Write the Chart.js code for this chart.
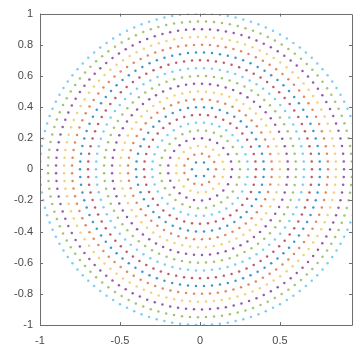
<!DOCTYPE html>
<html>
<head>
<meta charset="utf-8">
<script src="https://cdn.jsdelivr.net/npm/chart.js@4.4.1/dist/chart.umd.min.js"></script>
<style>
  html, body { margin: 0; padding: 0; background: #fff; }
  #wrap { width: 356px; height: 350px; }
</style>
</head>
<body>
<div id="wrap"><canvas id="chart" width="356" height="350"></canvas></div>
<script>
// Ring radii and number of points on each ring
var RING_RADII = [0.05, 0.10, 0.15, 0.20, 0.25, 0.30, 0.35, 0.40, 0.45, 0.50,
                  0.55, 0.60, 0.65, 0.70, 0.75, 0.80, 0.85, 0.90, 0.95, 1.00];
var RING_COUNTS = [6, 13, 19, 25, 31, 38, 44, 50, 57, 63,
                   69, 75, 82, 88, 94, 101, 107, 113, 119, 126];

// MATLAB default colour order, cycled ring by ring
var COLOR_ORDER = ['rgba(0,114,189,0.75)', 'rgba(217,83,25,0.7)', 'rgba(237,177,32,0.6)',
                   'rgba(126,47,142,0.8)', 'rgba(119,172,48,0.7)', 'rgba(77,190,238,0.75)',
                   'rgba(162,20,47,0.7)'];

// Tick labels
var X_TICKS = [-1, -0.5, 0, 0.5];
var Y_TICKS = [-1, -0.8, -0.6, -0.4, -0.2, 0, 0.2, 0.4, 0.6, 0.8, 1];

var AXIS_COLOR = '#6e6e6e';
var TICK_LEN = 3;

// one dataset per ring, points spread evenly round the circle
var datasets = RING_RADII.map(function (r, i) {
  var n = RING_COUNTS[i];
  var pts = [];
  for (var j = 0; j < n; j++) {
    var a = 2 * Math.PI * j / n;
    pts.push({ x: r * Math.cos(a), y: r * Math.sin(a) });
  }
  return {
    data: pts,
    backgroundColor: COLOR_ORDER[i % COLOR_ORDER.length],
    borderWidth: 0,
    pointRadius: 1.25
  };
});

// box round the axes with inward ticks, matlab style
var boxPlugin = {
  id: 'box',
  afterDraw: function (chart) {
    var ctx = chart.ctx;
    var a = chart.chartArea;
    var xs = chart.scales.x;
    var ys = chart.scales.y;
    ctx.save();
    ctx.strokeStyle = AXIS_COLOR;
    ctx.lineWidth = 1;
    ctx.beginPath();
    ctx.rect(Math.round(a.left) + 0.5, Math.round(a.top) + 0.5,
             Math.round(a.right - a.left), Math.round(a.bottom - a.top));
    X_TICKS.forEach(function (v) {
      var px = Math.round(xs.getPixelForValue(v)) + 0.5;
      ctx.moveTo(px, a.bottom); ctx.lineTo(px, a.bottom - TICK_LEN);
      ctx.moveTo(px, a.top); ctx.lineTo(px, a.top + TICK_LEN);
    });
    Y_TICKS.forEach(function (v) {
      var py = Math.round(ys.getPixelForValue(v)) + 0.5;
      ctx.moveTo(a.left, py); ctx.lineTo(a.left + TICK_LEN, py);
      ctx.moveTo(a.right, py); ctx.lineTo(a.right - TICK_LEN, py);
    });
    ctx.stroke();
    ctx.restore();
  }
};

var tickFont = { family: 'Liberation Sans, Arial, sans-serif', size: 11 };

new Chart(document.getElementById('chart'), {
  type: 'scatter',
  data: { datasets: datasets },
  options: {
    responsive: false,
    devicePixelRatio: 1,
    animation: false,
    layout: { padding: { left: 0, right: 4, top: 6, bottom: 0 } },
    plugins: { legend: { display: false }, tooltip: { enabled: false } },
    scales: {
      x: {
        type: 'linear',
        min: -1,
        max: 0.95,
        grid: { display: false, drawTicks: false },
        border: { display: false },
        afterBuildTicks: function (s) {
          s.ticks = X_TICKS.map(function (v) { return { value: v }; });
        },
        afterFit: function (s) { s.height = 25; },
        ticks: {
          autoSkip: false,
          maxRotation: 0,
          padding: 9,
          color: '#4a4a4a',
          font: tickFont,
          callback: function (v) { return String(v); }
        }
      },
      y: {
        type: 'linear',
        min: -1,
        max: 1,
        grid: { display: false, drawTicks: false },
        border: { display: false },
        afterBuildTicks: function (s) {
          s.ticks = Y_TICKS.map(function (v) { return { value: v }; });
        },
        afterFit: function (s) { s.width = 40; },
        ticks: {
          autoSkip: false,
          padding: 7,
          color: '#4a4a4a',
          font: tickFont,
          callback: function (v) { return String(Math.round(v * 10) / 10); }
        }
      }
    }
  },
  plugins: [boxPlugin]
});
</script>
</body>
</html>
